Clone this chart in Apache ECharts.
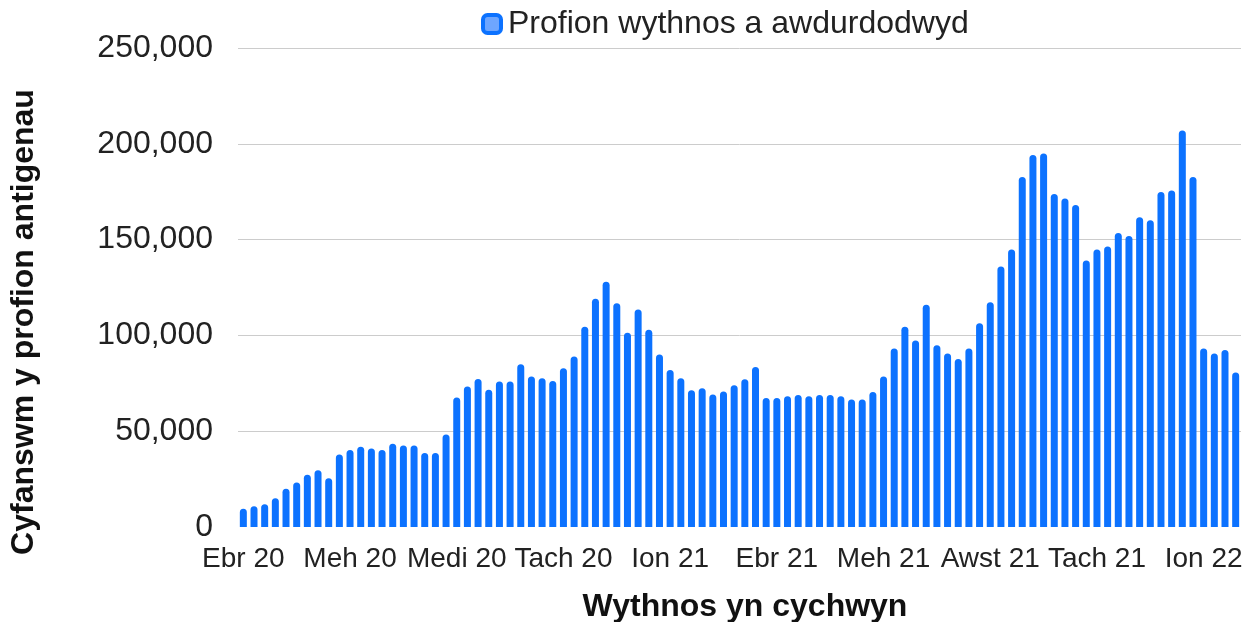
<!DOCTYPE html>
<html>
<head>
<meta charset="utf-8">
<script src="https://cdn.jsdelivr.net/npm/echarts@6/dist/echarts.min.js"></script>
<style>
  html, body { margin: 0; padding: 0; background: #fff; }
</style>
</head>
<body>
<div id="main" style="width: 1253px; height: 622px;"></div>
<script>
// weekly antigen tests, first week starts 20 Apr 2020
var firstWeek = [2020, 3, 20];
var weeklyTests = [
    9500, 10800, 11900, 15000, 19900, 23200, 27300, 29600, 25400, 37800,
    40200, 41900, 41000, 40200, 43500, 42600, 42600, 38600, 38600, 48300,
    67600, 73300, 77300, 71600, 76000, 76000, 85000, 78600, 77700, 76200,
    82800, 89000, 104500, 119100, 128000, 116800, 101400, 113500, 103000, 90000,
    82000, 77700, 71400, 72400, 69100, 70700, 74000, 77100, 83500, 67300,
    67300, 68200, 68900, 68200, 68900, 68900, 68200, 66500, 66500, 70500,
    78600, 93200, 104500, 97400, 116000, 94800, 90600, 87700, 93200, 106300,
    117300, 136000, 144800, 182700, 194100, 195000, 173800, 171400, 168100, 139100,
    144800, 146400, 153500, 151900, 161700, 160100, 174900, 175600, 207000, 182700,
    93100, 90600, 92400, 80700
];
var monthNames = ['Ion', 'Chwef', 'Maw', 'Ebr', 'Mai', 'Meh', 'Gorff', 'Awst', 'Medi', 'Hyd', 'Tach', 'Rhag'];
var yTicks = [0, 50000, 100000, 150000, 200000, 250000];

var seriesName = 'Profion wythnos a awdurdodwyd';
var xTitle = 'Wythnos yn cychwyn';
var yTitle = 'Cyfanswm y profion antigenau';

var weeks = [];
for (var i = 0; i < weeklyTests.length; i++) {
    var d = new Date(firstWeek[0], firstWeek[1], firstWeek[2] + 7 * i);
    weeks.push(d.getFullYear() + '-' + (d.getMonth() + 1) + '-' + d.getDate());
}

var font = 'Liberation Sans, Arial, sans-serif';
var myChart = echarts.init(document.getElementById('main'));
var option = {
    backgroundColor: '#ffffff',
    animation: false,
    grid: {
        left: 238,
        top: 48,
        width: 1003,
        height: 479,
        containLabel: false,
        outerBoundsMode: 'none'
    },
    legend: {
        left: 476,
        top: 3,
        itemWidth: 18,
        itemHeight: 18,
        icon: 'roundRect',
        itemStyle: {
            color: '#6ea6ff',
            borderColor: '#0c72ff',
            borderWidth: 4
        },
        textStyle: {
            fontFamily: font,
            fontSize: 32,
            color: '#222222',
            padding: [0, 0, 0, 2]
        },
        data: [seriesName]
    },
    xAxis: {
        type: 'category',
        data: weeks,
        axisLine: { show: false },
        axisTick: { show: false },
        axisLabel: {
            interval: 9,
            margin: 18,
            fontFamily: font,
            fontSize: 28,
            color: '#222222',
            formatter: function (v) {
                var p = v.split('-');
                return monthNames[+p[1] - 1] + ' ' + p[0].slice(2);
            }
        },
        splitLine: { show: false }
    },
    yAxis: {
        type: 'value',
        min: yTicks[0],
        max: yTicks[yTicks.length - 1],
        interval: yTicks[1] - yTicks[0],
        axisLine: { show: false },
        axisTick: { show: false },
        axisLabel: {
            margin: 25,
            fontFamily: font,
            fontSize: 32,
            color: '#222222',
            formatter: function (v) {
                return v.toLocaleString('en-US');
            }
        },
        splitLine: {
            show: true,
            lineStyle: {
                color: ['rgba(0,0,0,0)', '#cccccc', '#cccccc', '#cccccc', '#cccccc', '#cccccc'],
                width: 1
            }
        }
    },
    graphic: [
        {
            type: 'text',
            x: 24,
            y: 322,
            rotation: Math.PI / 2,
            style: {
                text: yTitle,
                font: 'bold 32px ' + font,
                fill: '#111111',
                textAlign: 'center',
                textVerticalAlign: 'middle'
            }
        },
        {
            type: 'text',
            x: 745,
            y: 607,
            style: {
                text: xTitle,
                font: 'bold 32px ' + font,
                fill: '#111111',
                textAlign: 'center',
                textVerticalAlign: 'middle'
            }
        }
    ],
    series: [{
        type: 'bar',
        name: seriesName,
        data: weeklyTests,
        barWidth: 7,
        itemStyle: {
            color: '#0c72ff',
            borderRadius: [3.5, 3.5, 0, 0]
        }
    }]
};
myChart.setOption(option);
</script>
</body>
</html>
